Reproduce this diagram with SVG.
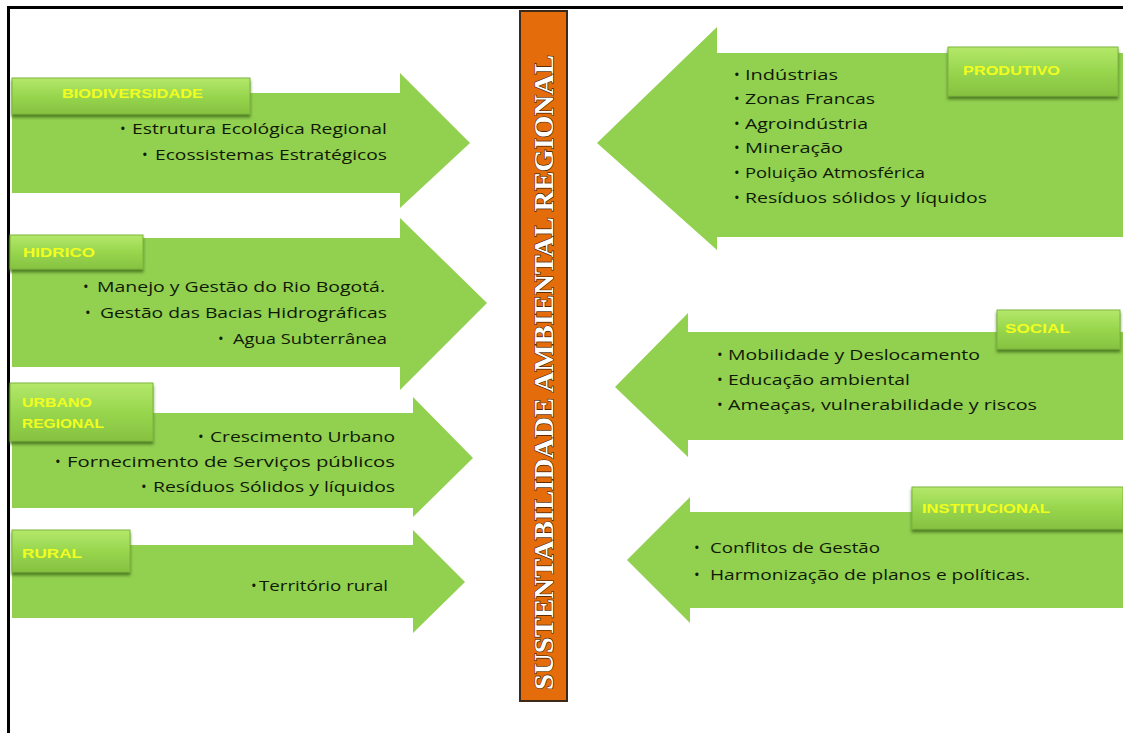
<svg xmlns="http://www.w3.org/2000/svg" width="1123" height="733" viewBox="0 0 1123 733">
<defs>
<linearGradient id="lbl" x1="0" y1="0" x2="0" y2="1">
<stop offset="0" stop-color="#B4E86A"/>
<stop offset="0.5" stop-color="#98D64E"/>
<stop offset="1" stop-color="#86C240"/>
</linearGradient>
<filter id="sh" x="-10%" y="-20%" width="120%" height="160%">
<feDropShadow dx="0" dy="3" stdDeviation="1.5" flood-color="#3F6A12" flood-opacity="0.8"/>
</filter>
<style>
.arrow{fill:#92D050;}
.lbl{fill:url(#lbl);stroke:#7DB63C;stroke-width:1;filter:url(#sh);}
.lt{font-family:"Liberation Sans",Arial,sans-serif;font-size:13px;font-weight:bold;fill:#F2FF1E;}
.it{font-family:"Open Sans","Liberation Sans",Arial,sans-serif;font-size:15px;fill:#0F1A05;}
.bar{fill:#E46C0A;stroke:#3B2A1A;stroke-width:2;}
.bt{font-family:"Liberation Serif","Times New Roman",serif;font-size:27px;font-weight:bold;fill:#FFFFFF;stroke:#3A1C05;stroke-width:1.2;paint-order:stroke;}
</style>
</defs>
<rect x="0" y="0" width="1123" height="733" fill="#FFFFFF"/>
<g id="frame">
<line x1="8.5" y1="7.5" x2="1123" y2="7.5" stroke="#000" stroke-width="3"/>
<line x1="8.5" y1="6" x2="8.5" y2="733" stroke="#000" stroke-width="3"/>
</g>
<g id="connectors"/>
<g id="biodiversidade">
<path class="arrow" d="M12,93 H400 V73 L470,143 L400,208 V193 H12 Z"/>
<rect class="lbl" x="12" y="78" width="238" height="36"/>
<text class="lt" x="62" y="98" textLength="141" lengthAdjust="spacingAndGlyphs">BIODIVERSIDADE</text>
<text class="it" x="120" y="134">•</text>
<text class="it" x="132" y="134" textLength="255" lengthAdjust="spacingAndGlyphs">Estrutura Ecológica  Regional</text>
<text class="it" x="142" y="160">•</text>
<text class="it" x="155" y="160" textLength="232" lengthAdjust="spacingAndGlyphs">Ecossistemas Estratégicos</text>
</g>
<g id="hidrico">
<path class="arrow" d="M12,238 H400 V218 L487,303 L400,390 V367 H12 Z"/>
<rect class="lbl" x="10" y="235" width="133" height="34"/>
<text class="lt" x="23" y="257" textLength="72" lengthAdjust="spacingAndGlyphs">HIDRICO</text>
<text class="it" x="83" y="292">•</text>
<text class="it" x="97" y="292" textLength="288" lengthAdjust="spacingAndGlyphs">Manejo y Gestão do Rio Bogotá.</text>
<text class="it" x="85" y="318">•</text>
<text class="it" x="100" y="318" textLength="287" lengthAdjust="spacingAndGlyphs">Gestão das Bacias Hidrográficas</text>
<text class="it" x="218" y="344">•</text>
<text class="it" x="233" y="344" textLength="154" lengthAdjust="spacingAndGlyphs">Agua Subterrânea</text>
</g>
<g id="urbano-regional">
<path class="arrow" d="M12,413 H413 V397 L473,458 L413,517 V508 H12 Z"/>
<rect class="lbl" x="10" y="383" width="143" height="58"/>
<text class="lt" x="22" y="407" textLength="70" lengthAdjust="spacingAndGlyphs">URBANO</text>
<text class="lt" x="22" y="428" textLength="82" lengthAdjust="spacingAndGlyphs">REGIONAL</text>
<text class="it" x="198" y="442">•</text>
<text class="it" x="210" y="442" textLength="185" lengthAdjust="spacingAndGlyphs">Crescimento  Urbano</text>
<text class="it" x="55" y="467">•</text>
<text class="it" x="67" y="467" textLength="328" lengthAdjust="spacingAndGlyphs">Fornecimento  de Serviços públicos</text>
<text class="it" x="141" y="492">•</text>
<text class="it" x="153" y="492" textLength="242" lengthAdjust="spacingAndGlyphs">Resíduos Sólidos y líquidos</text>
</g>
<g id="rural">
<path class="arrow" d="M12,545 H413 V530 L465,582 L413,633 V618 H12 Z"/>
<rect class="lbl" x="12" y="530" width="118" height="42"/>
<text class="lt" x="22" y="558" textLength="60" lengthAdjust="spacingAndGlyphs">RURAL</text>
<text class="it" x="251" y="591">•</text>
<text class="it" x="259" y="591" textLength="129" lengthAdjust="spacingAndGlyphs">Território  rural</text>
</g>
<g id="sustentabilidade">
<rect class="bar" x="520" y="11" width="47" height="690"/>
<text class="bt" transform="translate(553,690) rotate(-90)" x="0" y="0" textLength="635" lengthAdjust="spacingAndGlyphs">SUSTENTABILIDADE  AMBIENTAL  REGIONAL</text>
</g>
<g id="produtivo">
<path class="arrow" d="M1123,53 H717 V27 L597,143 L717,250 V237 H1123 Z"/>
<rect class="lbl" x="948" y="47" width="170" height="49"/>
<text class="lt" x="963" y="75" textLength="97" lengthAdjust="spacingAndGlyphs">PRODUTIVO</text>
<text class="it" x="734" y="80">•</text>
<text class="it" x="745" y="80" textLength="93" lengthAdjust="spacingAndGlyphs">Indústrias</text>
<text class="it" x="734" y="104">•</text>
<text class="it" x="745" y="104" textLength="130" lengthAdjust="spacingAndGlyphs">Zonas Francas</text>
<text class="it" x="734" y="129">•</text>
<text class="it" x="745" y="129" textLength="123" lengthAdjust="spacingAndGlyphs">Agroindústria</text>
<text class="it" x="734" y="153">•</text>
<text class="it" x="745" y="153" textLength="98" lengthAdjust="spacingAndGlyphs">Mineração</text>
<text class="it" x="734" y="178">•</text>
<text class="it" x="745" y="178" textLength="180" lengthAdjust="spacingAndGlyphs">Poluição Atmosférica</text>
<text class="it" x="734" y="203">•</text>
<text class="it" x="745" y="203" textLength="242" lengthAdjust="spacingAndGlyphs">Resíduos sólidos y líquidos</text>
</g>
<g id="social">
<path class="arrow" d="M1123,332 H688 V313 L615,387 L688,457 V440 H1123 Z"/>
<rect class="lbl" x="997" y="310" width="123" height="39"/>
<text class="lt" x="1005" y="333" textLength="65" lengthAdjust="spacingAndGlyphs">SOCIAL</text>
<text class="it" x="717" y="360">•</text>
<text class="it" x="728" y="360" textLength="252" lengthAdjust="spacingAndGlyphs">Mobilidade y Deslocamento</text>
<text class="it" x="717" y="385">•</text>
<text class="it" x="728" y="385" textLength="182" lengthAdjust="spacingAndGlyphs">Educação ambiental</text>
<text class="it" x="717" y="410">•</text>
<text class="it" x="728" y="410" textLength="309" lengthAdjust="spacingAndGlyphs">Ameaças,  vulnerabilidade  y riscos</text>
</g>
<g id="institucional">
<path class="arrow" d="M1123,512 H690 V497 L627,560 L690,623 V608 H1123 Z"/>
<rect class="lbl" x="912" y="487" width="211" height="42"/>
<text class="lt" x="922" y="513" textLength="128" lengthAdjust="spacingAndGlyphs">INSTITUCIONAL</text>
<text class="it" x="694" y="553">•</text>
<text class="it" x="710" y="553" textLength="170" lengthAdjust="spacingAndGlyphs">Conflitos de Gestão</text>
<text class="it" x="694" y="580">•</text>
<text class="it" x="710" y="580" textLength="320" lengthAdjust="spacingAndGlyphs">Harmonização  de planos e políticas.</text>
</g>
</svg>
